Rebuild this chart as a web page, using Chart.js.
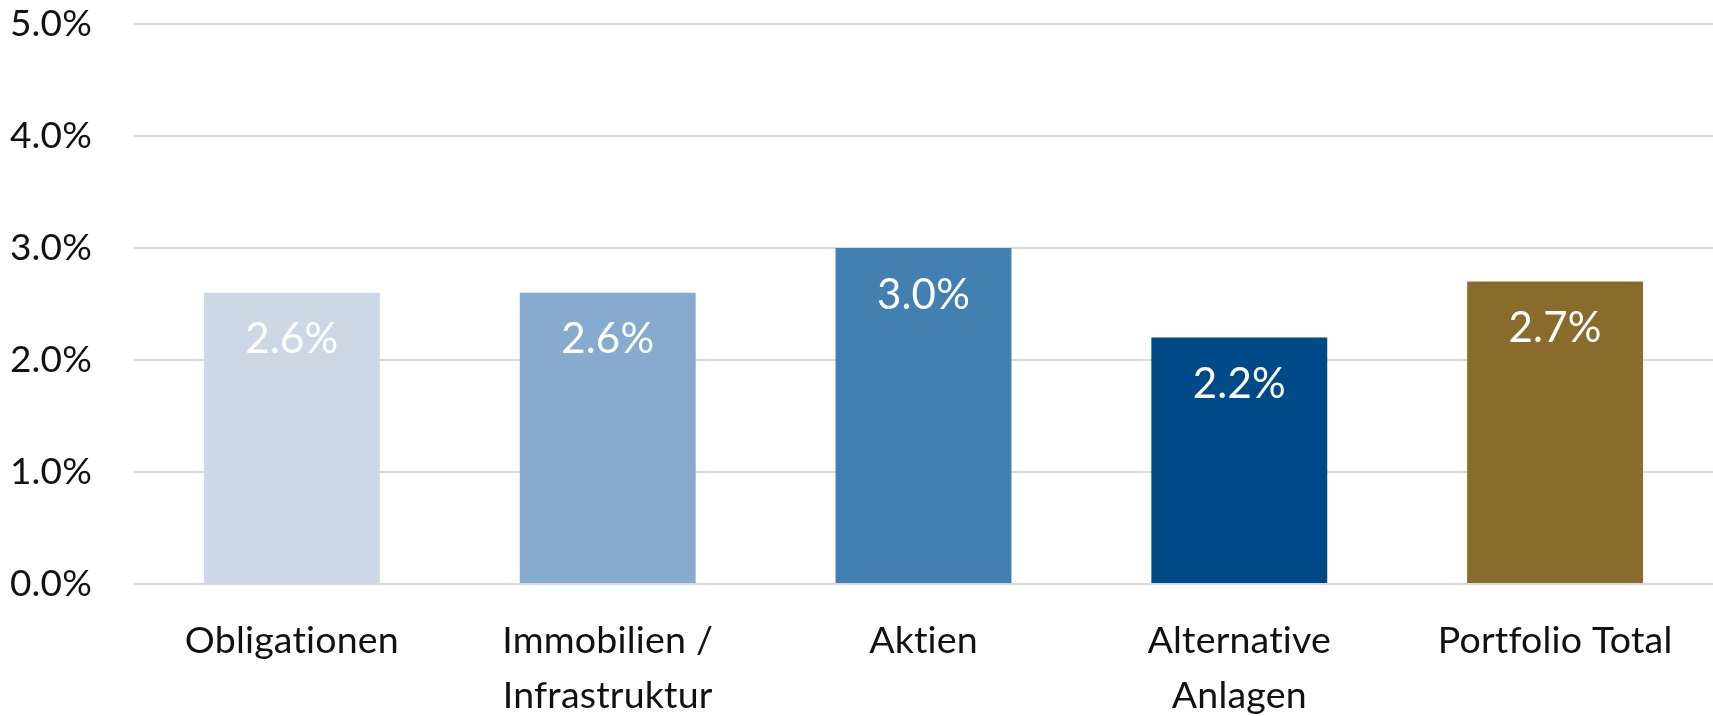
<!DOCTYPE html>
<html>
<head>
<meta charset="utf-8">
<script src="https://cdn.jsdelivr.net/npm/chart.js@4"></script>
<style>
  html, body { margin: 0; padding: 0; background: #fff; }
  #wrap { width: 1713px; height: 716px; }
</style>
</head>
<body>
<div id="wrap"><canvas id="chart" width="1713" height="716"></canvas></div>
<script>
const categories = ["Obligationen", ["Immobilien /", "Infrastruktur"], "Aktien", ["Alternative", "Anlagen"], "Portfolio Total"];
const values = [2.6, 2.6, 3.0, 2.2, 2.7];
const barColors = ["#cdd7e6", "#86abcf", "#4180b0", "#004b87", "#896c2b"];
const yTicks = [0, 1, 2, 3, 4, 5];

const FONT = "Lato, 'Open Sans', sans-serif";

// tiny letter spacing stops the "ti" ligature of Lato
const noLigatures = {
  id: "noLigatures",
  beforeDraw(chart) {
    if ("letterSpacing" in chart.ctx) chart.ctx.letterSpacing = "0.2px";
  }
};

// white value labels just below the top of each bar
const valueLabels = {
  id: "valueLabels",
  afterDatasetsDraw(chart) {
    const ctx = chart.ctx;
    const meta = chart.getDatasetMeta(0);
    ctx.save();
    ctx.fillStyle = "#fff";
    ctx.font = "42px " + FONT;
    ctx.textAlign = "center";
    ctx.textBaseline = "middle";
    meta.data.forEach((bar, i) => {
      ctx.fillText(values[i].toFixed(1) + "%", bar.x, bar.y + 47);
    });
    ctx.restore();
  }
};

new Chart(document.getElementById("chart"), {
  type: "bar",
  data: {
    labels: categories,
    datasets: [{ data: values, backgroundColor: barColors, categoryPercentage: 1, barPercentage: 0.557 }]
  },
  options: {
    responsive: false,
    animation: false,
    layout: { padding: { top: 24, right: 0, left: 0, bottom: 0 } },
    plugins: { legend: { display: false }, tooltip: { enabled: false } },
    scales: {
      x: {
        grid: { display: false, drawTicks: false },
        border: { display: false },
        ticks: { color: "#111", font: { family: FONT, size: 37.5, lineHeight: 1.45 }, padding: 30, maxRotation: 0, autoSkip: false },
        afterFit(scale) { scale.height = 132; scale.paddingLeft = 0; scale.paddingRight = 0; }
      },
      y: {
        min: 0, max: 5,
        afterBuildTicks(scale) { scale.ticks = yTicks.map(v => ({ value: v })); },
        grid: { color: "#d9d9d9", lineWidth: 2, drawTicks: false },
        border: { display: false },
        ticks: { color: "#111", font: { family: FONT, size: 37 }, padding: 42, callback: v => v.toFixed(1) + "%" },
        afterFit(scale) { scale.width = 134; scale.paddingTop = 0; scale.paddingBottom = 0; }
      }
    }
  },
  plugins: [noLigatures, valueLabels]
});
</script>
</body>
</html>
